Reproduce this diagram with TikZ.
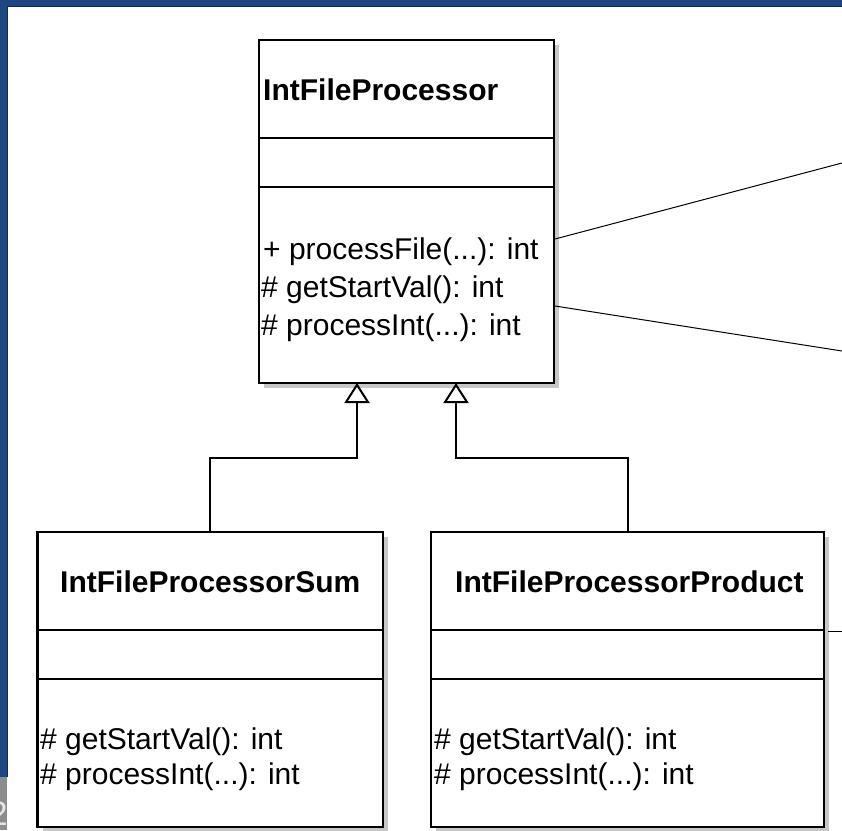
\documentclass[tikz,border=0pt]{standalone}
\usepackage{fontspec}
\setmainfont{Liberation Sans}
\usetikzlibrary{arrows.meta,calc,shadows}
\definecolor{frameblue}{RGB}{30,70,128}
\definecolor{framedark}{RGB}{25,40,70}
\begin{document}
\begin{tikzpicture}[x=1pt,y=-1pt,
  cls/.style={draw=black, line width=2.4pt, fill=white, rectangle, inner sep=0pt, outer sep=0pt,
    anchor=north west, drop shadow={shadow xshift=5pt, shadow yshift=-5pt, fill=black!22, opacity=1}},
  divider/.style={line width=2pt},
  clstitle/.style={font=\bfseries\fontsize{30}{36}\selectfont, anchor=base west, inner sep=0pt},
  meth/.style={font=\fontsize{30}{36}\selectfont, anchor=base west, inner sep=0pt},
  inh/.style={line width=2pt, -{Triangle[open, length=20pt, width=25pt, line width=2pt]}},
  note/.style={line width=1pt}]
\useasboundingbox (0,0) rectangle (842,830);
\fill[white] (0,0) rectangle (842,830);

% frame remnants
\fill[frameblue] (0,0) rectangle (842,6);
\fill[frameblue] (0,0) rectangle (7,777);
\draw[framedark, line width=1pt] (7,777) -- (7,6.5) -- (842,6.5);
\fill[black!45] (0,777) rectangle (7,830);
\begin{scope}
  \clip (0,777) rectangle (7,830);
  \node[text=white!90!black, font=\fontsize{34}{40}\selectfont, anchor=base east, inner sep=0pt] (pagenum) at (8,825) {2};
\end{scope}

% classes
\node[cls, minimum width=295pt, minimum height=343pt] (top) at (259,40) {};
\node[cls, minimum width=345.5pt, minimum height=295pt] (sum) at (37.5,532) {};
\node[cls, minimum width=393pt, minimum height=295pt] (prod) at (431,532) {};

\foreach \b in {top,sum,prod}{
  \draw[divider] ($(\b.north west)+(0,98)$) -- ($(\b.north east)+(0,98)$);
  \draw[divider] ($(\b.north west)+(0,147)$) -- ($(\b.north east)+(0,147)$);
}

% texts
\node[clstitle] (toptitle) at (263,100) {IntFileProcessor};
\node[meth] (topm1) at (263,259) {+ processFile(...): int};
\node[meth] (topm2) at (261,297) {\# getStartVal(): int};
\node[meth] (topm3) at (261,335) {\# processInt(...): int};

\node[clstitle] (sumtitle) at (60,592) {IntFileProcessorSum};
\node[meth] (summ1) at (40,749) {\# getStartVal(): int};
\node[meth] (summ2) at (40,784) {\# processInt(...): int};

\node[clstitle] (prodtitle) at (455,592) {IntFileProcessorProduct};
\node[meth] (prodm1) at (434,749) {\# getStartVal(): int};
\node[meth] (prodm2) at (434,784) {\# processInt(...): int};

% inheritance
\draw[inh] (sum.north) -- ++(0,-74) -| ($(top.south)+(-49.5,0)$);
\draw[inh] (prod.north) -- ++(0,-74) -| ($(top.south)+(49.5,0)$);

% note connectors leaving the picture
\coordinate (n1) at (842,163);
\coordinate (n2) at (842,351);
\coordinate (n3) at (842,631);
\draw[note] ($(top.north east)+(1,199)$) -- (n1);
\draw[note] ($(top.north east)+(1,266)$) -- (n2);
\draw[note] ($(prod.north east)+(4,99)$) -- (n3);
\end{tikzpicture}
\end{document}
